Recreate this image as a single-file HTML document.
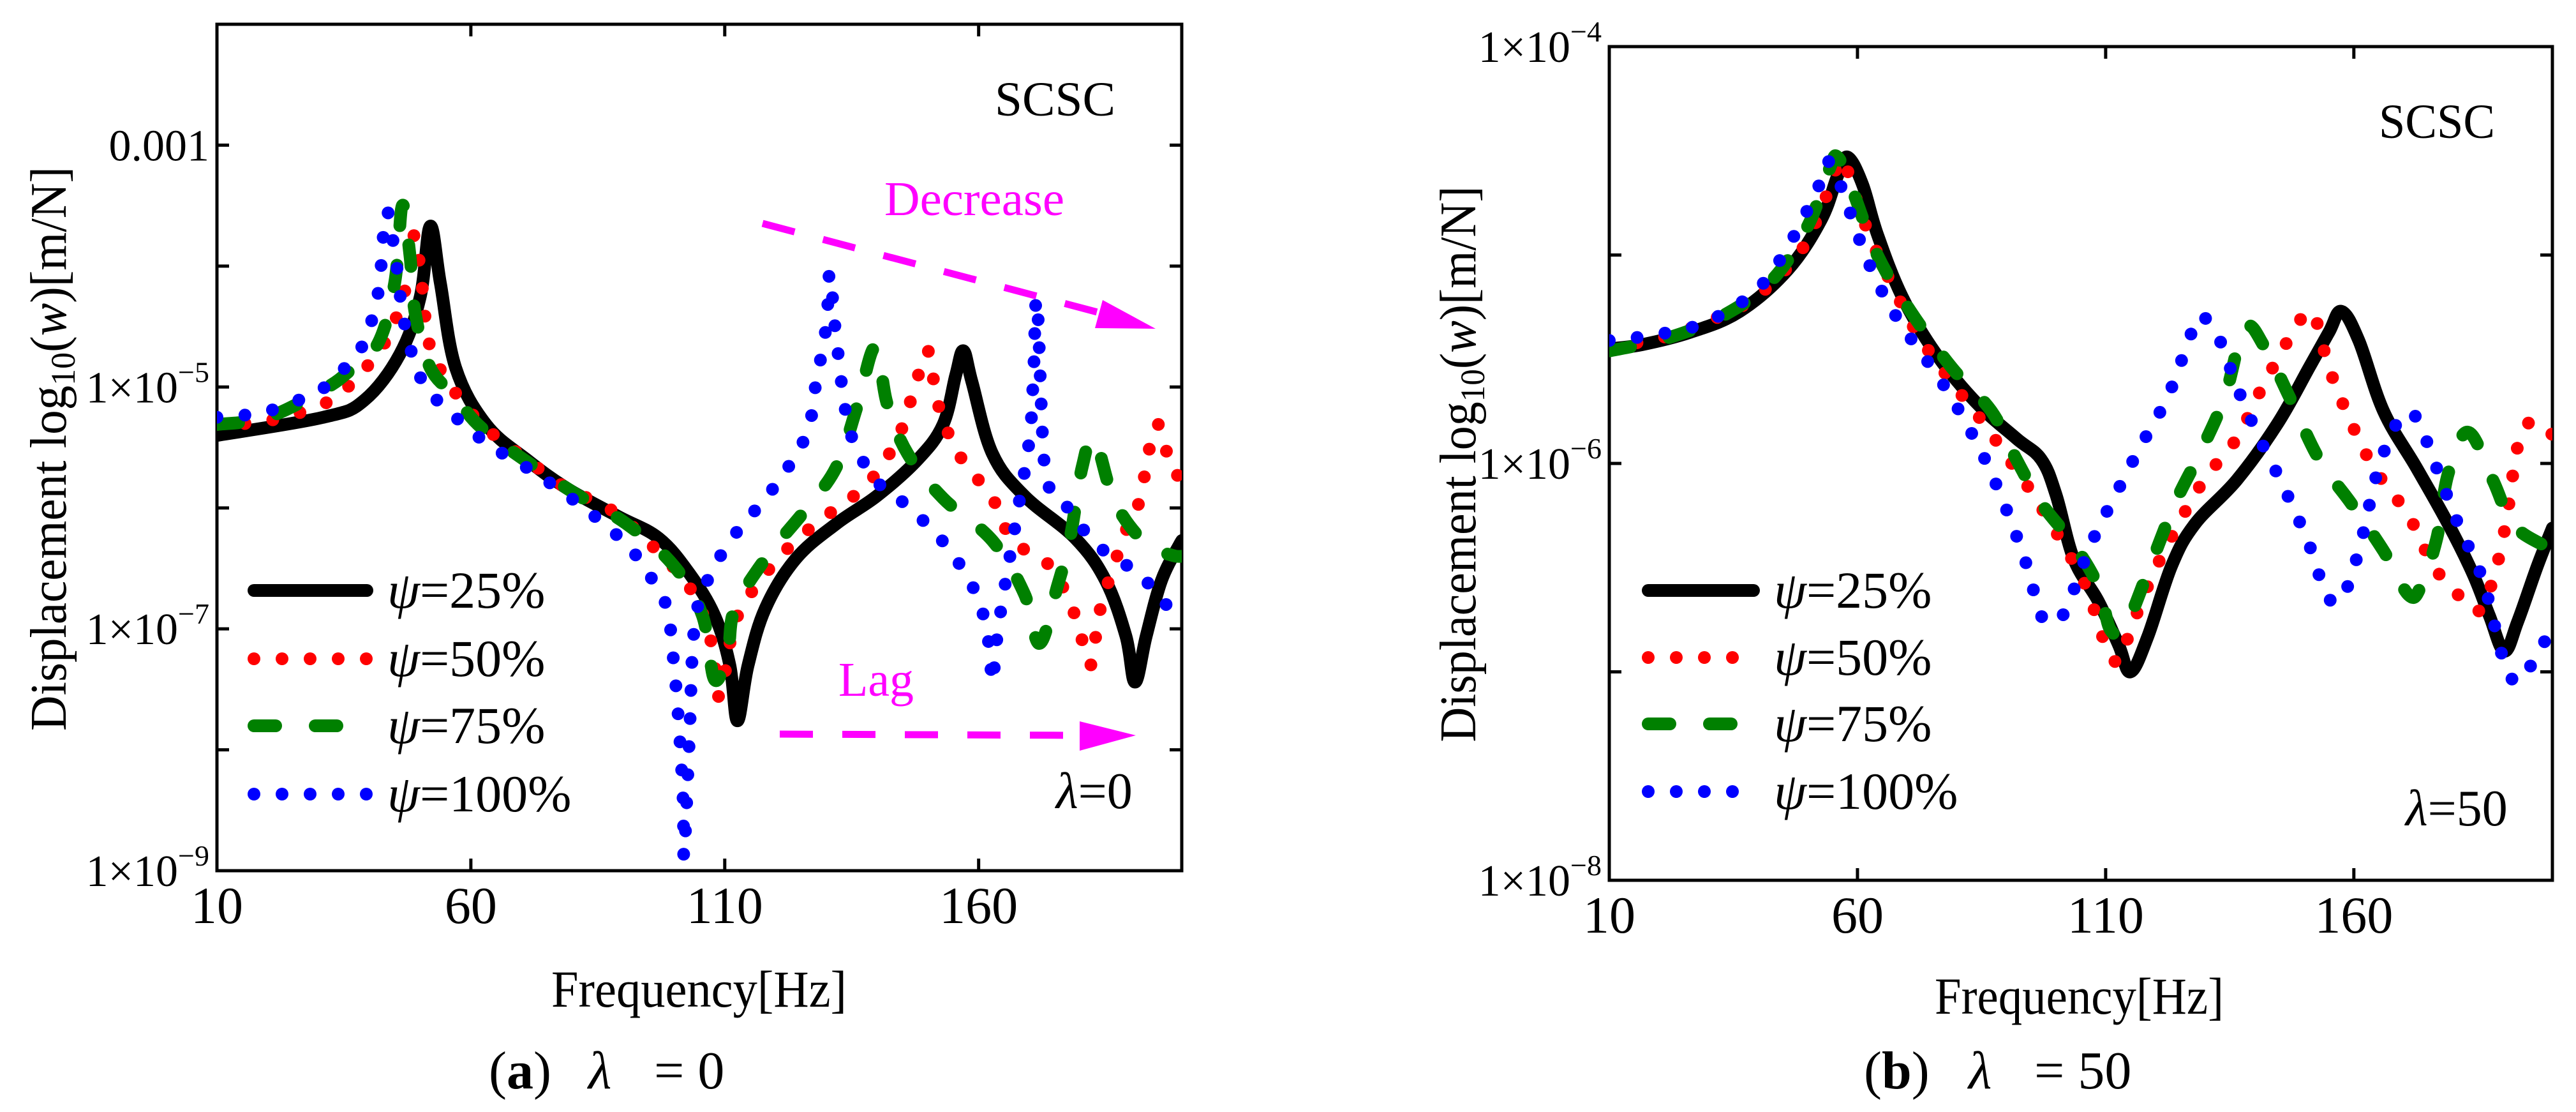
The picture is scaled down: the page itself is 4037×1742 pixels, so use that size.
<!DOCTYPE html>
<html><head><meta charset="utf-8"><style>
html,body{margin:0;padding:0;background:#fff;}
svg, svg text, svg tspan{font-family:"Liberation Serif","Times New Roman",serif !important;}
</style></head><body>
<svg id="fig" width="4037" height="1737" viewBox="0 0 4037 1737" xmlns="http://www.w3.org/2000/svg" style="font-family:'Liberation Serif',serif">
<defs>
<clipPath id="clipA"><rect x="340" y="38" width="1512" height="1326"/></clipPath>
<clipPath id="clipB"><rect x="2522" y="73" width="1478" height="1306"/></clipPath>
</defs>
<g id="panelA" style="font-family:'Liberation Serif',serif"></g>
<g id="panelB" style="font-family:'Liberation Serif',serif"></g>
</svg>
<script>
// ---------- data (frequency in Hz, value = log10 displacement) ----------
const xTicks = [10, 60, 110, 160];
// Panel A (lambda = 0)
const aBlackF = [10,31,39,46,50,52,54,57,63,71,79,89,97,103,108,111,112.5,114.6,118,124,132,140,148,153,155.5,157,158.7,162.7,169,179,185,189,190.8,193,196,199.6,200];
const aBlackV = [-5.40,-5.25,-5.11,-4.73,-4.26,-3.67,-4.14,-4.84,-5.31,-5.60,-5.84,-6.07,-6.25,-6.54,-6.89,-7.30,-7.76,-7.30,-6.83,-6.42,-6.13,-5.90,-5.60,-5.31,-4.90,-4.70,-4.96,-5.55,-5.90,-6.25,-6.60,-7.06,-7.44,-7.06,-6.60,-6.30,-6.28];
const aRedF = [10,20,31,36,42.5,45.7,48,49,50.5,52,57,63,71,79,87.4,95.4,103.4,107.4,109,112,117,124,133,138,144,147.5,150,152,156,162.7,166.7,174,179,182,184,189,191.6,195,198,200];
const aRedV = [-5.31,-5.28,-5.14,-4.99,-4.67,-4.38,-4.03,-3.74,-4.20,-4.67,-5.05,-5.34,-5.60,-5.84,-6.01,-6.30,-6.68,-7.12,-7.56,-6.95,-6.60,-6.27,-5.97,-5.81,-5.43,-4.99,-4.70,-5.14,-5.55,-5.92,-6.27,-6.48,-6.89,-7.30,-6.83,-6.19,-5.95,-5.31,-5.69,-5.72];
const aGreenF = [10,20,31,36,41.7,45,46.5,48,49,52,57,63,79,90.6,100,105.6,108,110.6,112,118,126,132,136,139.6,142,146,153,162.7,169,172,175.5,178,180.4,182.8,186.8,193,198,200];
const aGreenV = [-5.31,-5.25,-5.02,-4.87,-4.64,-4.14,-3.50,-3.91,-4.38,-4.84,-5.08,-5.37,-5.84,-6.13,-6.48,-6.89,-7.42,-7.18,-6.83,-6.42,-6.01,-5.66,-5.17,-4.67,-5.14,-5.55,-5.92,-6.27,-6.71,-7.12,-6.65,-6.25,-5.66,-5.43,-5.95,-6.30,-6.39,-6.40];
const aBlueF = [10,20,30.5,34.5,38.5,41.7,43.3,45,47,50.5,55,63,73,82.6,90.6,95.4,98.6,100,101,101.8,102,103,104,106.6,112,119.5,126,128,130,130.7,132,134.7,140,145,153,159.5,162,162.7,164,167.5,170,170.8,171.5,173,175.5,182,187,191.6,195,199.6,200];
const aBlueV = [-5.25,-5.20,-5.02,-4.87,-4.67,-4.23,-3.56,-3.88,-4.49,-4.96,-5.17,-5.46,-5.72,-6.01,-6.30,-6.57,-6.83,-7.30,-7.82,-8.41,-8.87,-7.94,-7.00,-6.60,-6.22,-5.84,-5.40,-4.96,-4.49,-4.06,-4.61,-5.37,-5.78,-5.95,-6.28,-6.71,-7.12,-7.44,-6.95,-6.07,-5.43,-4.90,-4.29,-5.66,-5.87,-6.25,-6.42,-6.54,-6.71,-6.92,-6.93];
// Panel B (lambda = 50)
const bBlackF = [10,16.6,26.4,36.3,46,52.7,56,58,61,64,69,75.7,84,92,97,100,103.6,108.5,112.6,115,118.5,123.3,128,136.4,144.6,151,155,157.5,161,166,172.6,179,184,187.3,190.3,193,197,200];
const bBlackV = [-5.45,-5.43,-5.37,-5.27,-5.07,-4.83,-4.62,-4.53,-4.66,-4.90,-5.20,-5.47,-5.71,-5.88,-5.98,-6.15,-6.46,-6.66,-6.87,-7.00,-6.83,-6.49,-6.29,-6.08,-5.81,-5.54,-5.37,-5.27,-5.41,-5.75,-6.02,-6.29,-6.53,-6.73,-6.90,-6.76,-6.49,-6.31];
const bRedF = [10,20,29.7,39.6,48.6,53.5,56.8,59,62.5,67.5,72.4,79,85.5,90.5,95.4,101,106,110,112.6,115,119,124,129.8,136.4,141,146,149.6,152,155,159,164,171,176,181,185,188,190.6,193,195.6,198.8,200];
const bRedV = [-5.44,-5.40,-5.32,-5.20,-4.98,-4.73,-4.54,-4.68,-4.91,-5.17,-5.39,-5.61,-5.81,-5.98,-6.15,-6.37,-6.59,-6.87,-6.95,-6.80,-6.56,-6.32,-6.08,-5.88,-5.66,-5.44,-5.30,-5.29,-5.54,-5.78,-6.02,-6.25,-6.49,-6.63,-6.71,-6.56,-6.29,-5.92,-5.80,-5.85,-5.86];
const bGreenF = [10,21.5,33,42.8,50,54.3,56,59,64,70.7,79,87,92,97,103.6,108.5,111,114,119,124,129,134,138,142,147,153,159.4,166,171,173.5,176.7,179,183,188,192,198,200];
const bGreenV = [-5.46,-5.40,-5.29,-5.12,-4.86,-4.59,-4.53,-4.69,-5.00,-5.27,-5.54,-5.75,-5.98,-6.19,-6.39,-6.59,-6.80,-6.78,-6.49,-6.19,-5.95,-5.68,-5.35,-5.44,-5.68,-5.98,-6.19,-6.42,-6.63,-6.59,-6.36,-6.05,-5.85,-6.08,-6.29,-6.39,-6.40];
const bBlueF = [10,20,29.7,39.6,46,52,54,57,60,64,69,77,84,88.8,93.7,97,99.5,102,107,112,117,122.5,126.6,129,133,136.4,141,146,151,154.5,157.5,161,165,169.4,172.6,176,181,186,190,193,196.6,199.7,200];
const bBlueV = [-5.41,-5.38,-5.32,-5.17,-4.96,-4.68,-4.55,-4.69,-4.90,-5.13,-5.34,-5.61,-5.90,-6.15,-6.46,-6.73,-6.76,-6.70,-6.39,-6.15,-5.92,-5.68,-5.42,-5.29,-5.41,-5.63,-5.88,-6.12,-6.39,-6.63,-6.65,-6.42,-6.02,-5.78,-5.78,-5.98,-6.29,-6.56,-6.93,-7.05,-6.93,-6.80,-6.80];

const NS = "http://www.w3.org/2000/svg";
const SERIF_STYLE = "font-family:'Liberation Serif',serif";
function mk(tag, attrs, parent) {
  const e = document.createElementNS(NS, tag);
  for (const k in attrs) e.setAttribute(k, attrs[k]);
  parent.appendChild(e);
  return e;
}
const styles = [
  {color:"#000", w:20, dash:null},
  {color:"#ff0000", w:20, dash:"0 44"},
  {color:"#008000", w:20, dash:"34 62"},
  {color:"#0000ff", w:20, dash:"0 44"}
];
const legendLabels = ["25%","50%","75%","100%"];

function smoothPath(pts) {
  let d = "M" + pts[0][0].toFixed(1) + " " + pts[0][1].toFixed(1);
  const t = 0.35;
  for (let i = 0; i < pts.length - 1; i++) {
    const p0 = pts[Math.max(0, i - 1)], p1 = pts[i], p2 = pts[i + 1], p3 = pts[Math.min(pts.length - 1, i + 2)];
    const c1x = p1[0] + (p2[0] - p0[0]) * t / 2, c1y = p1[1] + (p2[1] - p0[1]) * t / 2;
    const c2x = p2[0] - (p3[0] - p1[0]) * t / 2, c2y = p2[1] - (p3[1] - p1[1]) * t / 2;
    d += `C${c1x.toFixed(1)} ${c1y.toFixed(1)} ${c2x.toFixed(1)} ${c2y.toFixed(1)} ${p2[0].toFixed(1)} ${p2[1].toFixed(1)}`;
  }
  return d;
}

function drawPanel(P) {
  const g = document.getElementById(P.id);
  const sx = f => P.x0 + (f - 10) / 190 * (P.x1 - P.x0);
  const sy = v => P.y0 + (P.lmax - v) / (P.lmax - P.lmin) * (P.y1 - P.y0);
  const fr = mk("rect", {x:P.x0, y:P.y0, width:P.x1-P.x0, height:P.y1-P.y0, fill:"none", stroke:"#000", "stroke-width":5}, g);
  
  
  xTicks.forEach(t => {
    const x = sx(t);
    const tk = mk("path", {d:`M${x} ${P.y1}v-19M${x} ${P.y0}v19`, stroke:"#000", "stroke-width":5}, g);
    
    
    const tl = mk("text", {x:x, y:P.y1+82, "font-size":82, "text-anchor":"middle", style:SERIF_STYLE}, g);
    tl.textContent = t;
    
    
  });
  for (let v = P.lmin; v <= P.lmax; v++) {
    const y = sy(v);
    const tk = mk("path", {d:`M${P.x0} ${y}h19M${P.x1} ${y}h-19`, stroke:"#000", "stroke-width":5}, g);
    
    
    if (P.labels.includes(v)) {
      const tl = mk("text", {x:P.x0-12, y:y+24, "font-size":70, "text-anchor":"end", style:SERIF_STYLE}, g);
      
      
      if (v === -3) { tl.textContent = "0.001"; }
      else {
        tl.appendChild(document.createTextNode("1×10"));
        const s = mk("tspan", {"font-size":46, dy:-32}, tl);
        s.textContent = "−" + (-v);
      }
    }
  }
  const cg = mk("g", {"clip-path":`url(#${P.clip})`}, g);
  P.series.forEach((s, i) => {
    const st = styles[i];
    const pts = s.f.map((f, k) => [sx(f), sy(s.v[k])]);
    const a = {d:smoothPath(pts), fill:"none", stroke:st.color, "stroke-width":st.w, "stroke-linecap":"round", "stroke-linejoin":"round"};
    if (st.dash) a["stroke-dasharray"] = st.dash;
    const p = mk("path", a, cg);
    
    
  });
  P.legY.forEach((y, i) => {
    const st = styles[i];
    const a = {d:`M${P.legX0+10} ${y}H${P.legX1-10}`, stroke:st.color, "stroke-width":st.w, "stroke-linecap":"round", fill:"none"};
    if (st.dash) a["stroke-dasharray"] = st.dash;
    const l = mk("path", a, g);
    
    
    const t = mk("text", {x:P.legX1+22, y:y+27, "font-size":82, style:SERIF_STYLE}, g);
    
    
    const ps = mk("tspan", {"font-style":"italic"}, t);
    ps.textContent = "ψ";
    const r = mk("tspan", {}, t);
    r.textContent = "=" + legendLabels[i];
  });
}

drawPanel({id:"panelA", clip:"clipA", x0:340, x1:1852, y0:38, y1:1364, lmin:-9, lmax:-2, labels:[-3,-5,-7,-9],
  legX0:388, legX1:585, legY:[925,1032,1137,1244],
  series:[{f:aBlackF,v:aBlackV},{f:aRedF,v:aRedV},{f:aGreenF,v:aGreenV},{f:aBlueF,v:aBlueV}]});
drawPanel({id:"panelB", clip:"clipB", x0:2522, x1:4000, y0:73, y1:1379, lmin:-8, lmax:-4, labels:[-4,-6,-8],
  legX0:2573, legX1:2758, legY:[925,1030,1134,1240],
  series:[{f:bBlackF,v:bBlackV},{f:bRedF,v:bRedV},{f:bGreenF,v:bGreenV},{f:bBlueF,v:bBlueV}]});
</script>
<svg style="position:absolute;left:0;top:0" width="4037" height="1737" viewBox="0 0 4037 1737" xmlns="http://www.w3.org/2000/svg">
<g style="font-family:'Liberation Serif',serif">
<text x="77" y="703" font-size="80" text-anchor="middle" transform="rotate(-90 77 703)" textLength="884" lengthAdjust="spacingAndGlyphs" dy="26">Displacement log<tspan font-size="54" dy="14">10</tspan><tspan dy="-14">(</tspan><tspan font-style="italic">w</tspan>)[m/N]</text>
<text x="2286" y="727" font-size="80" text-anchor="middle" transform="rotate(-90 2286 727)" textLength="871" lengthAdjust="spacingAndGlyphs" dy="26">Displacement log<tspan font-size="54" dy="14">10</tspan><tspan dy="-14">(</tspan><tspan font-style="italic">w</tspan>)[m/N]</text>
<text x="864" y="1577" font-size="82" textLength="463" lengthAdjust="spacingAndGlyphs">Frequency[Hz]</text>
<text x="3032" y="1588" font-size="82" textLength="453" lengthAdjust="spacingAndGlyphs">Frequency[Hz]</text>
<text y="1705" font-size="84"><tspan x="766">(</tspan><tspan font-weight="bold">a</tspan><tspan>)</tspan><tspan x="922" font-style="italic">λ</tspan><tspan x="1025">= 0</tspan></text>
<text y="1705" font-size="84"><tspan x="2921">(</tspan><tspan font-weight="bold">b</tspan><tspan>)</tspan><tspan x="3085" font-style="italic">λ</tspan><tspan x="3188">= 50</tspan></text>
<text x="1559" y="181" font-size="76" textLength="189" lengthAdjust="spacingAndGlyphs">SCSC</text>
<text x="3728" y="216" font-size="76" textLength="182" lengthAdjust="spacingAndGlyphs">SCSC</text>
<text x="1655" y="1266" font-size="80"><tspan font-style="italic">λ</tspan>=0</text>
<text x="3770" y="1293" font-size="80"><tspan font-style="italic">λ</tspan>=50</text>
<text x="1386" y="337" font-size="76" fill="#ff00ff" textLength="282" lengthAdjust="spacingAndGlyphs">Decrease</text>
<path d="M1195 350L1735 493" stroke="#ff00ff" stroke-width="11" stroke-dasharray="52 46" fill="none"/>
<polygon points="1811,515 1716,514 1728,470" fill="#ff00ff"/>
<text x="1314" y="1090" font-size="76" fill="#ff00ff" textLength="118" lengthAdjust="spacingAndGlyphs">Lag</text>
<path d="M1222 1150L1700 1152" stroke="#ff00ff" stroke-width="11" stroke-dasharray="52 46" fill="none"/>
<polygon points="1780,1152 1692,1130 1692,1176" fill="#ff00ff"/>
</g>
</svg>
</body></html>
